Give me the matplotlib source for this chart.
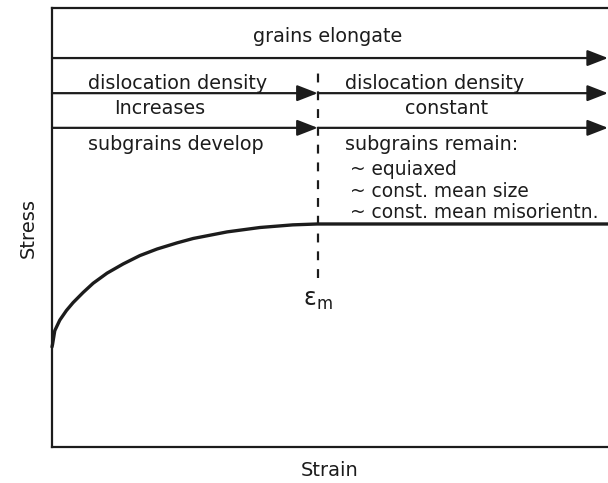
import matplotlib.pyplot as plt

# stress-strain curve (normalised units)
strain = [0.0, 0.001, 0.005, 0.014, 0.026, 0.038, 0.056, 0.074, 0.099, 0.128,
          0.158, 0.189, 0.225, 0.254, 0.315, 0.374, 0.433, 0.477, 1.0]
stress = [0.228, 0.234, 0.265, 0.289, 0.311, 0.329, 0.352, 0.373, 0.396, 0.417,
          0.436, 0.451, 0.465, 0.475, 0.490, 0.500, 0.506, 0.508, 0.508]

eps_m = 0.478

# annotation bands (stress level of each arrow)
band_levels = [0.886, 0.806, 0.727]
top_label = "grains elongate"
left_labels = ["dislocation density", "Increases", "subgrains develop"]
right_labels = ["dislocation density", "constant", "subgrains remain:"]
remain_items = ["~ equiaxed", "~ const. mean size", "~ const. mean misorientn."]

ink = "#1c1c1c"
plt.rcParams["font.family"] = ["DejaVu Sans"]

fig = plt.figure(figsize=(6.08, 4.83), dpi=100)
ax = fig.add_axes([52 / 608, 36 / 483, 556 / 608, 439 / 483])
ax.set_xlim(0, 1)
ax.set_ylim(0, 1)
ax.set_xticks([])
ax.set_yticks([])
for side in ["left", "bottom", "top"]:
    ax.spines[side].set_linewidth(1.6)
    ax.spines[side].set_color(ink)
ax.spines["right"].set_visible(False)

ax.plot(strain, stress, color=ink, lw=2.4, solid_capstyle="round",
        solid_joinstyle="round", clip_on=False)

# dashed marker at eps_m
ax.plot([eps_m, eps_m], [0.385, 0.855], color=ink, lw=1.6, ls=(0, (4, 4)))
ax.text(eps_m, 0.335, r"$\mathregular{\varepsilon_m}$", ha="center", va="center",
        fontsize=17, color=ink)

arrow = dict(arrowstyle="-|>,head_length=0.9,head_width=0.35", color=ink, lw=1.6,
             mutation_scale=14, shrinkA=0, shrinkB=0)

# full-width arrow
ax.annotate("", xy=(1.0, band_levels[0]), xytext=(0, band_levels[0]),
            arrowprops=arrow, annotation_clip=False)
for lvl in band_levels[1:]:
    ax.annotate("", xy=(eps_m, lvl), xytext=(0, lvl), arrowprops=arrow)
    ax.annotate("", xy=(1.0, lvl), xytext=(eps_m, lvl), arrowprops=arrow,
                annotation_clip=False)

fs = 13.8
txt = dict(va="center", fontsize=fs, color=ink)
ax.text(0.496, 0.936, top_label, ha="center", **txt)
ax.text(0.065, 0.827, left_labels[0], ha="left", **txt)
ax.text(0.194, 0.772, left_labels[1], ha="center", **txt)
ax.text(0.065, 0.688, left_labels[2], ha="left", **txt)
ax.text(0.527, 0.827, right_labels[0], ha="left", **txt)
ax.text(0.710, 0.772, right_labels[1], ha="center", **txt)
ax.text(0.527, 0.688, right_labels[2], ha="left", **txt)
for i, item in enumerate(remain_items):
    ax.text(0.536, 0.631 - i * 0.048, item, ha="left", va="center", fontsize=13.4,
            color=ink)

ax.set_xlabel("Strain", fontsize=14, color=ink, labelpad=10)
ax.set_ylabel("Stress", fontsize=14, color=ink, labelpad=10)

fig.savefig("out.png", dpi=100)
